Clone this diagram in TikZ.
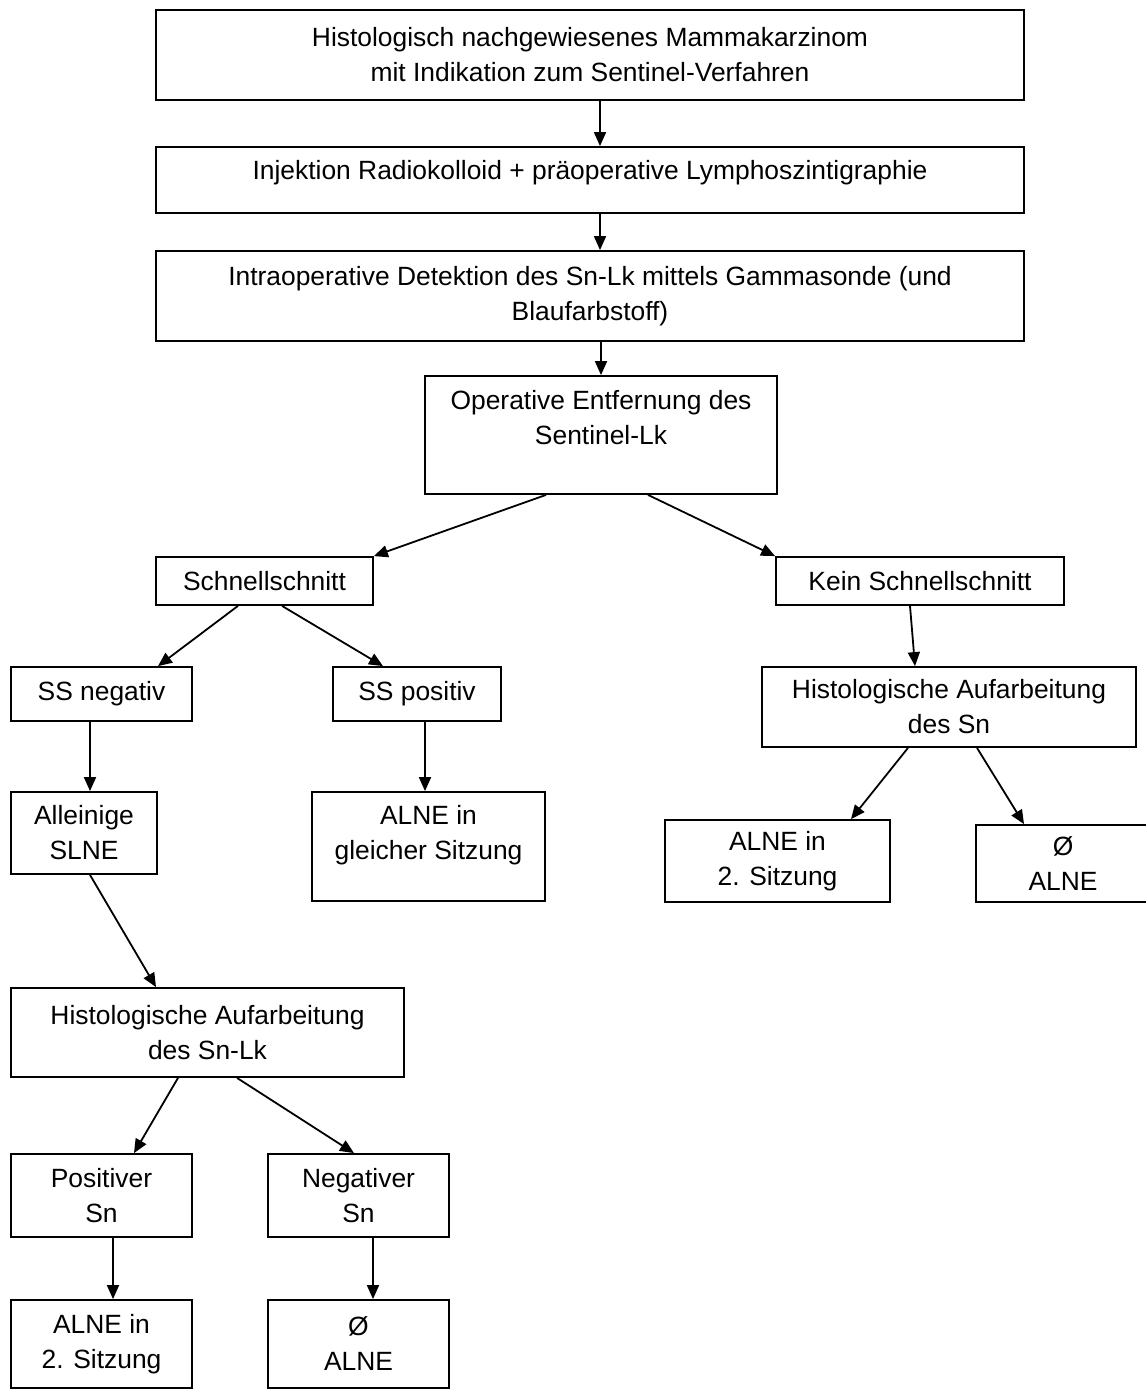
\documentclass[tikz,border=0pt]{standalone}
\usepackage{fontspec}
\setmainfont{Liberation Sans}
\usetikzlibrary{arrows.meta}

\tikzset{
  box/.style={draw, line width=0.9pt, inner sep=0pt, align=center,
    font=\fontsize{13.2}{17.5}\selectfont},
}

\begin{document}
\begin{tikzpicture}[x=0.5pt,y=-0.5pt,line width=0.9pt,>={Triangle[length=7pt,width=6pt]}]
\useasboundingbox (0,0) rectangle (1145,1390);

% obere Kette
\node[box,minimum width=434pt,minimum height=45pt] (diag) at (590,55) {Histologisch nachgewiesenes Mammakarzinom\\mit Indikation zum Sentinel-Verfahren};
\node[box,minimum width=434pt,minimum height=33pt,text depth=10pt] (inj) at (590,180) {Injektion Radiokolloid + präoperative Lymphoszintigraphie};
\node[box,minimum width=434pt,minimum height=45pt] (det) at (590,296) {Intraoperative Detektion des Sn-Lk mittels Gammasonde (und\\Blaufarbstoff)};
\node[box,minimum width=176pt,minimum height=59pt,text depth=18pt] (op) at (601,435) {Operative Entfernung des\\Sentinel-Lk};

% Verzweigung
\node[box,minimum width=108.5pt,minimum height=24pt] (ss) at (264.5,581) {Schnellschnitt};
\node[box,minimum width=144pt,minimum height=24pt] (kein) at (920,581) {Kein Schnellschnitt};

\node[box,minimum width=90.5pt,minimum height=27pt] (neg) at (101.5,694) {SS negativ};
\node[box,minimum width=84pt,minimum height=27pt] (pos) at (417,694) {SS positiv};
\node[box,minimum width=187pt,minimum height=40pt] (histr) at (949,707) {Histologische Aufarbeitung\\des Sn};

\node[box,minimum width=73pt,minimum height=41pt] (slne) at (84,833) {Alleinige\\SLNE};
\node[box,minimum width=116.5pt,minimum height=54.5pt,text depth=14pt] (alneg) at (428.5,846.5) {ALNE in\\gleicher Sitzung};
\node[box,minimum width=112.5pt,minimum height=41pt] (alnezr) at (777.5,861) {ALNE in\\2. Sitzung};
\node[box,minimum width=87pt,minimum height=38.5pt] (nullr) at (1063,863.5) {Ø\\ALNE};

% linker Zweig unten
\node[box,minimum width=196.5pt,minimum height=44.5pt] (histl) at (207.5,1032.5) {Histologische Aufarbeitung\\des Sn-Lk};
\node[box,minimum width=90.5pt,minimum height=41.5pt] (posn) at (101.5,1195.5) {Positiver\\Sn};
\node[box,minimum width=90.5pt,minimum height=41.5pt] (negn) at (358.5,1195.5) {Negativer\\Sn};
\node[box,minimum width=90.5pt,minimum height=44pt] (alnezl) at (101.5,1344) {ALNE in\\2. Sitzung};
\node[box,minimum width=90.5pt,minimum height=44pt] (nulll) at (358.5,1344) {Ø\\ALNE};

\draw[->] ([xshift=5pt]diag.south) -- ([xshift=5pt]inj.north);
\draw[->] ([xshift=5pt]inj.south) -- ([xshift=5pt]det.north);
\draw[->] ([xshift=5.5pt]det.south) -- (op.north);
\draw[->] ([xshift=-27.5pt]op.south) -- (ss.north east);
\draw[->] ([xshift=23.5pt]op.south) -- (kein.north west);

\draw[->] ([xshift=-13.25pt]ss.south) -- ([xshift=28.25pt]neg.north);
\draw[->] ([xshift=8.75pt]ss.south) -- ([xshift=-17pt]pos.north);
\draw[->] ([xshift=-5pt]kein.south) -- ([xshift=-17pt]histr.north);

\draw[->] ([xshift=-5.75pt]neg.south) -- ([xshift=3pt]slne.north);
\draw[->] ([xshift=4pt]pos.south) -- ([xshift=-1.75pt]alneg.north);
\draw[->] ([xshift=-20.5pt]histr.south) -- ([xshift=36.75pt]alnezr.north);
\draw[->] ([xshift=14pt]histr.south) -- ([xshift=-19.5pt]nullr.north);

\draw[->] ([xshift=3pt]slne.south) -- ([xshift=-25.75pt]histl.north);
\draw[->] ([xshift=-14.75pt]histl.south) -- ([xshift=16.25pt]posn.north);
\draw[->] ([xshift=14.75pt]histl.south) -- ([xshift=-2.25pt]negn.north);
\draw[->] ([xshift=5.75pt]posn.south) -- ([xshift=5.75pt]alnezl.north);
\draw[->] ([xshift=7.25pt]negn.south) -- ([xshift=7.25pt]nulll.north);

\end{tikzpicture}
\end{document}
